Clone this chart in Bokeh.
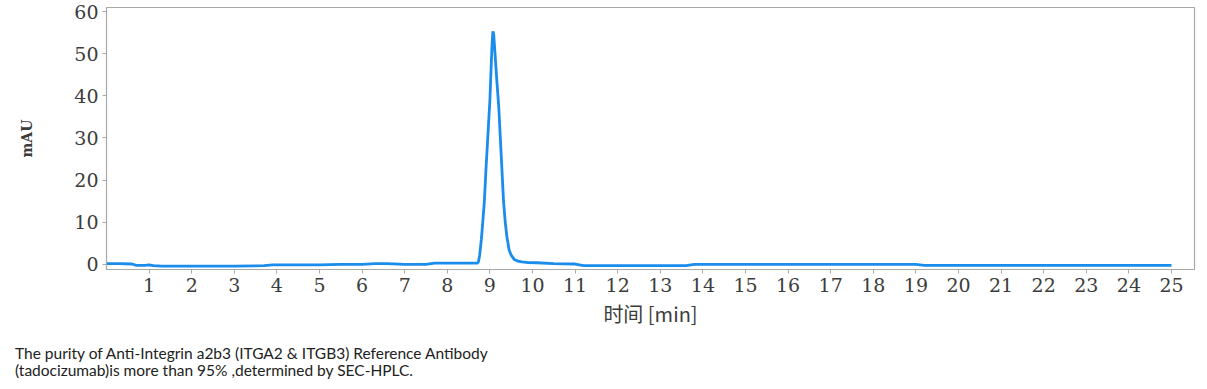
from bokeh.plotting import figure
from bokeh.models import Range1d, FixedTicker, Div
from bokeh.layouts import column
from bokeh.embed import file_html
from bokeh.resources import INLINE

# chromatogram (time in min, absorbance in mAU)
time_min = [0.0, 0.3, 0.6, 0.7, 0.9, 1.0, 1.1, 1.3, 2.0, 3.0, 3.7, 3.9, 4.5, 5.0, 5.5,
            6.0, 6.3, 6.6, 7.0, 7.5, 7.7, 8.2, 8.6, 8.70, 8.73, 8.76, 8.80, 8.84, 8.87,
            8.91, 8.95, 9.00, 9.03, 9.05, 9.07, 9.09, 9.12, 9.16, 9.21, 9.26, 9.30, 9.32,
            9.36, 9.40, 9.45, 9.50, 9.57, 9.65, 9.75, 9.90, 10.1, 10.5, 11.0, 11.2, 12.0,
            13.0, 13.6, 13.8, 15.0, 17.0, 18.5, 19.0, 19.2, 19.4, 21.0, 23.0, 25.0]
mau = [0.2, 0.2, 0.1, -0.2, -0.2, -0.1, -0.3, -0.4, -0.4, -0.4, -0.3, -0.1, -0.1, -0.1, 0.0,
       0.0, 0.2, 0.2, 0.0, 0.0, 0.3, 0.3, 0.3, 0.3, 0.6, 2.2, 6.0, 11.0, 15.0,
       23.0, 30.0, 39.0, 47.0, 52.0, 55.3, 54.5, 50.0, 44.0, 37.0, 27.0, 19.0, 15.0,
       10.0, 6.5, 3.5, 2.2, 1.2, 0.8, 0.6, 0.45, 0.4, 0.2, 0.1, -0.3, -0.3,
       -0.3, -0.3, 0.0, 0.0, 0.0, 0.0, 0.0, -0.2, -0.2, -0.2, -0.2, -0.2]

x_ticks = list(range(1, 26))
y_ticks = [0, 10, 20, 30, 40, 50, 60]
x_label = "时间 [min]"
y_label = "mAU"
caption_lines = ["The purity of Anti-Integrin a2b3 (ITGA2 &amp; ITGB3) Reference Antibody",
                 "(tadocizumab)is more than 95% ,determined by SEC-HPLC."]

p = figure(width=1207, height=330, output_backend="svg", toolbar_location=None,
           x_range=Range1d(0, 25.54), y_range=Range1d(-1.2, 60.95),
           min_border_left=106, min_border_right=13, min_border_top=7, min_border_bottom=61)

p.line(time_min, mau, line_color="#1a8ceb", line_width=2.8)

p.grid.visible = False
p.outline_line_color = "#a8a8a8"
p.outline_line_width = 1.2
p.background_fill_color = "white"
p.border_fill_color = "white"

gray = "#a8a8a8"
for ax in (p.xaxis[0], p.yaxis[0]):
    ax.axis_line_color = gray
    ax.major_tick_line_color = gray
    ax.minor_tick_line_color = None
    ax.major_tick_in = 0
    ax.major_tick_out = 4
    ax.major_label_text_font = "DejaVu Serif"
    ax.major_label_text_font_size = "19px"
    ax.major_label_text_color = "#3c3c3c"

p.xaxis.ticker = FixedTicker(ticks=x_ticks)
p.yaxis.ticker = FixedTicker(ticks=y_ticks)
p.xaxis.major_label_standoff = 4
p.yaxis.major_label_standoff = 4

p.xaxis.axis_label = x_label
p.xaxis.axis_label_text_font = "Noto Sans CJK SC"
p.xaxis.axis_label_text_font_size = "20px"
p.xaxis.axis_label_text_font_style = "normal"
p.xaxis.axis_label_text_color = "#3c3c3c"
p.xaxis.axis_label_standoff = 4

p.yaxis.axis_label = y_label
p.yaxis.axis_label_text_font = "DejaVu Serif"
p.yaxis.axis_label_text_font_size = "14px"
p.yaxis.axis_label_text_font_style = "bold"
p.yaxis.axis_label_text_color = "#3c3c3c"
p.yaxis.axis_label_standoff = 36

cap = Div(text="<br>".join(caption_lines), width=1192, height=49,
          styles={"font-family": "Lato", "font-size": "15.5px", "line-height": "17px",
                  "color": "#222222", "padding-left": "10px", "padding-top": "10px",
                  "background-color": "white"})

layout = column(p, cap, spacing=0)
open("out.html", "w").write(file_html(layout, INLINE))
